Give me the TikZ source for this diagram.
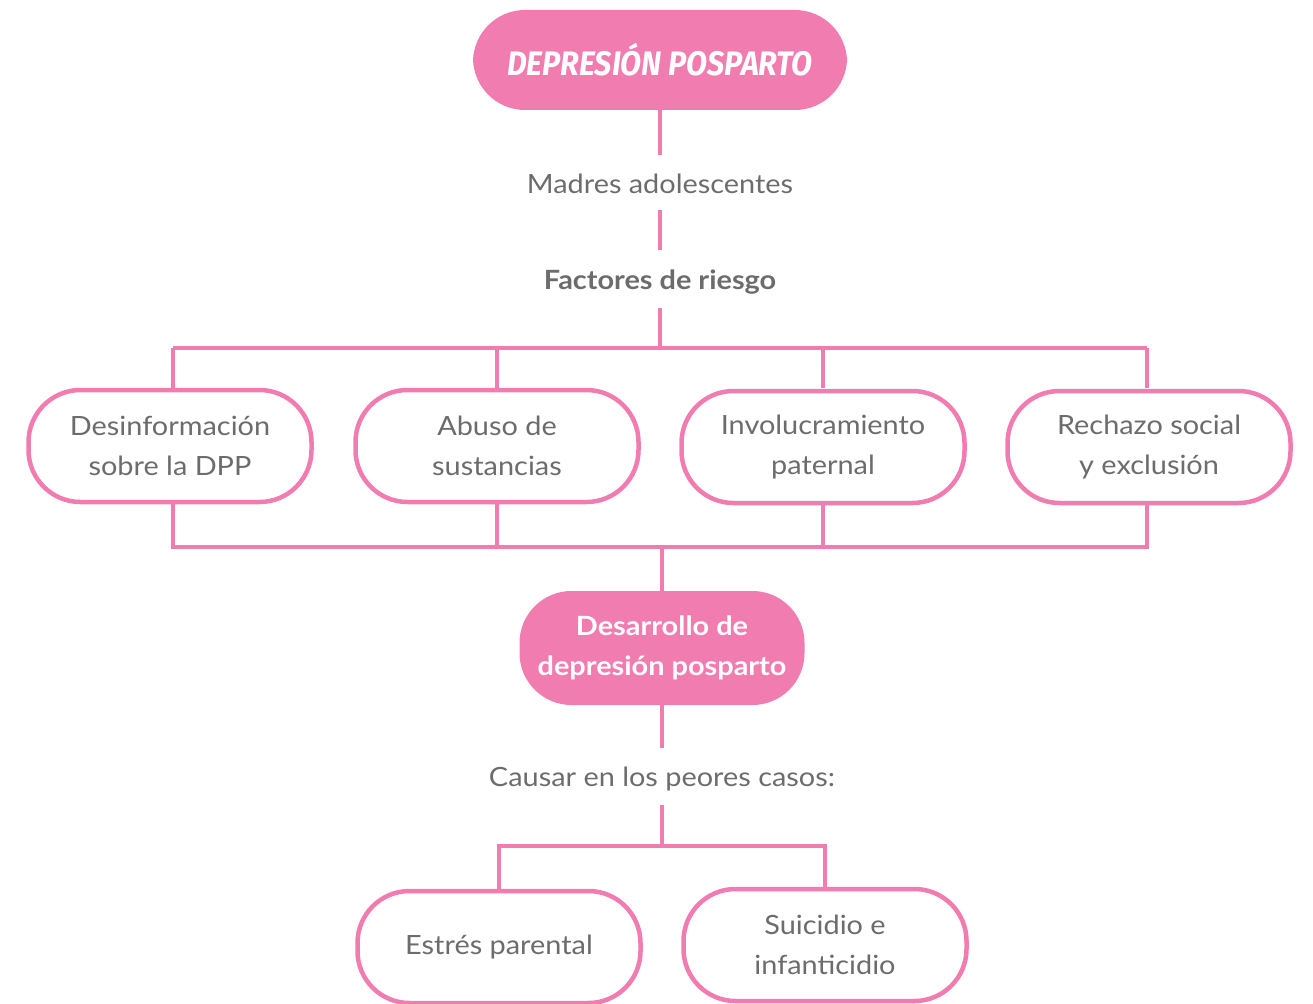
\documentclass[tikz,border=0pt]{standalone}
\usepackage{fontspec}
\setmainfont[FakeStretch=1.09]{Lato}
\newfontfamily\titlefont[FakeStretch=0.9]{Fira Sans}
\definecolor{pk}{RGB}{240,124,176}
\definecolor{tx}{RGB}{108,108,108}
\begin{document}
\begin{tikzpicture}[x=1pt,y=-1pt,
  link/.style={draw=pk,line width=4.5pt},
  obox/.style={draw=pk,line width=4.5pt,fill=white,rounded corners=52pt,minimum width=283pt,minimum height=112pt,align=center,text=tx,font=\fontsize{26.5}{40}\selectfont},
  fbox/.style={fill=pk,rounded corners=52pt,align=center,text=white},
  lbl/.style={text=tx,font=\fontsize{26.5}{30}\selectfont,inner sep=0pt}]
\useasboundingbox (0,0) rectangle (1313,1003);
\node[fbox,minimum width=374pt,minimum height=100pt,font=\titlefont\fontsize{34}{36}\selectfont\bfseries\itshape] (title) at (660,60) {DEPRESIÓN POSPARTO};
\node[lbl] (madres) at (660,184) {Madres adolescentes};
\node[lbl,font=\fontsize{26.5}{30}\selectfont\bfseries] (fact) at (660,282) {Factores de riesgo};
\node[obox] (b1) at (170,446) {Desinformación\\sobre la DPP};
\node[obox] (b2) at (497,446) {Abuso de\\sustancias};
\node[obox] (b3) at (823,447) {Involucramiento\\paternal};
\node[obox] (b4) at (1149,447) {Rechazo social\\y exclusión};
\node[fbox,minimum width=285pt,minimum height=114pt,font=\fontsize{26.5}{40}\selectfont\bfseries] (dev) at (662,648) {Desarrollo de\\depresión posparto};
\node[lbl] (causar) at (662,779) {Causar en los peores casos:};
\node[obox] (c1) at (499,947) {Estrés parental};
\node[obox] (c2) at (825,945) {Suicidio e\\infanticidio};
\coordinate (tj) at (660,348);
\coordinate (bj) at (662,547);
\coordinate (cj) at (662,846);
\draw[link] (title.south) -- (660,155);
\draw[link] (660,210) -- (660,250);
\draw[link] (660,308) -- (tj);
\draw[link] (173,348) -- (1147,348);
\draw[link] (173,348) -- (173,388);
\draw[link] (497,348) -- (b2.north);
\draw[link] (823,348) -- (823,388);
\draw[link] (1147,348) -- (1147,388);
\draw[link] (173,503) -- (173,547) -- (1147,547) -- (1147,503);
\draw[link] (b2.south) -- (497,547);
\draw[link] (823,503) -- (823,547);
\draw[link] (bj) -- (dev.north);
\draw[link] (dev.south) -- (662,748);
\draw[link] (662,805) -- (cj);
\draw[link] (499,889) -- (499,846) -- (825,846) -- (825,889);
\end{tikzpicture}
\end{document}
